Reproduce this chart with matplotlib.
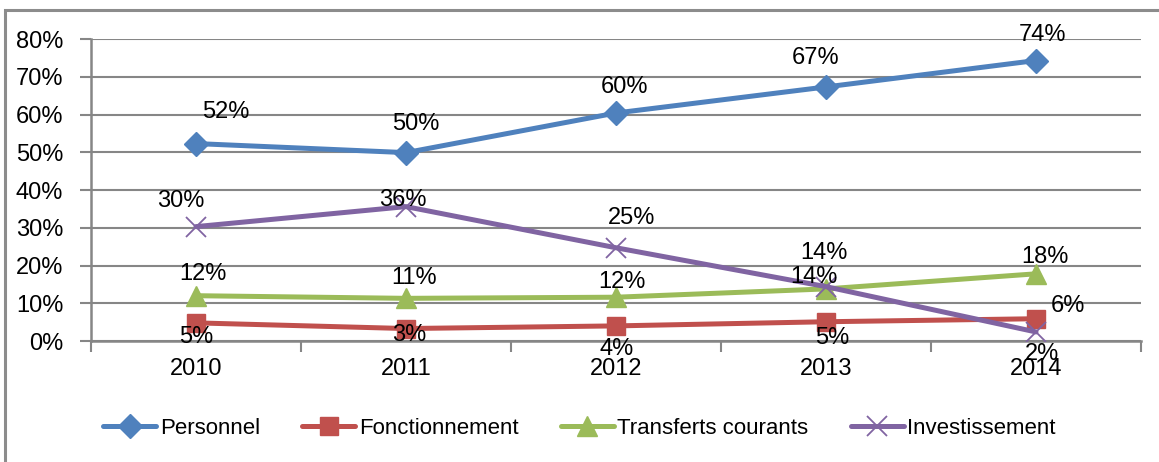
import matplotlib
matplotlib.use("Agg")
import matplotlib.pyplot as plt
from matplotlib.patches import Rectangle

plt.rcParams['font.family'] = ['Liberation Sans Narrow', 'Liberation Sans', 'DejaVu Sans']

years = ['2010', '2011', '2012', '2013', '2014']
personnel = [52.3, 49.9, 60.4, 67.3, 74.3]
fonctionnement = [4.8, 3.3, 4.0, 5.1, 5.9]
transferts = [12.0, 11.3, 11.6, 13.8, 17.8]
investissement = [30.3, 35.6, 24.7, 14.4, 2.4]
labels = {
    'Personnel': ['52%', '50%', '60%', '67%', '74%'],
    'Fonctionnement': ['5%', '3%', '4%', '5%', '6%'],
    'Transferts courants': ['12%', '11%', '12%', '14%', '18%'],
    'Investissement': ['30%', '36%', '25%', '14%', '2%'],
}

# label offsets in pixels (Excel placed them a bit unevenly)
offsets = {
    'Personnel': [(30, 32), (10, 29), (9, 26), (-10, 29), (7, 26)],
    'Fonctionnement': [(0, -14), (3, -6), (1, -23), (6, -16), (32, 13)],
    'Transferts courants': [(7, 22), (8, 20), (6, 15), (-12, 12), (9, 17)],
    'Investissement': [(-15, 26), (-3, 7), (16, 30), (-2, 34), (6, -22)],
}

series = [
    ('Personnel', personnel, '#4F81BD', 'D', 12),
    ('Fonctionnement', fonctionnement, '#C0504D', 's', 13),
    ('Transferts courants', transferts, '#9BBB59', '^', 15),
    ('Investissement', investissement, '#8064A2', 'x', 14),
]

fig = plt.figure(figsize=(11.59, 4.62), dpi=100)
ax = fig.add_axes([91 / 1159, 1 - 341 / 462, 1050 / 1159, 302 / 462])

x = list(range(len(years)))
for name, vals, col, mk, ms in series:
    if mk == 'x':
        ax.plot(x, vals, color=col, lw=3.6, marker=mk, ms=ms, mew=1.3, label=name,
                solid_capstyle='round', zorder=3)
    else:
        ax.plot(x, vals, color=col, lw=3.6, marker=mk, ms=ms, mec=col, label=name,
                solid_capstyle='round', zorder=3)
    for i, v in enumerate(vals):
        ax.annotate(labels[name][i], (i, v), xytext=offsets[name][i],
                    textcoords='offset pixels', ha='center', va='center',
                    fontsize=17, color='black', zorder=4)

grey = '#868686'
ax.set_xlim(-0.5, 4.5)
ax.set_ylim(0, 80)
ax.set_yticks(range(0, 81, 10))
ax.set_yticklabels([f'{t}%' for t in range(0, 81, 10)], fontsize=17)
ax.yaxis.grid(True, color=grey, lw=1.5)
ax.set_axisbelow(True)

ax.set_xticks([i - 0.5 for i in range(6)])
ax.set_xticklabels([])
ax.set_xticks(x, minor=True)
ax.set_xticklabels(years, minor=True, fontsize=17)
ax.tick_params(axis='x', which='minor', length=0, pad=12)
ax.tick_params(axis='x', which='major', length=8, width=1.5, color=grey, direction='out')
ax.tick_params(axis='y', length=8, width=1.5, color=grey, pad=12)

for s in ['top', 'right']:
    ax.spines[s].set_visible(False)
for s in ['left', 'bottom']:
    ax.spines[s].set_color(grey)
    ax.spines[s].set_linewidth(1.8)

fig.legend(loc='center', bbox_to_anchor=(0.5, 1 - 428 / 462), ncol=4, frameon=False,
           fontsize=16, handlelength=2.4, handletextpad=0.15, columnspacing=1.9,
           numpoints=1)

fig.add_artist(Rectangle((5 / 1159, -0.1), 1.2, 1 - 10 / 462 + 0.1,
                         transform=fig.transFigure, fill=False,
                         ec='#8c8c8c', lw=2.2))

fig.savefig('out.png', dpi=100)
